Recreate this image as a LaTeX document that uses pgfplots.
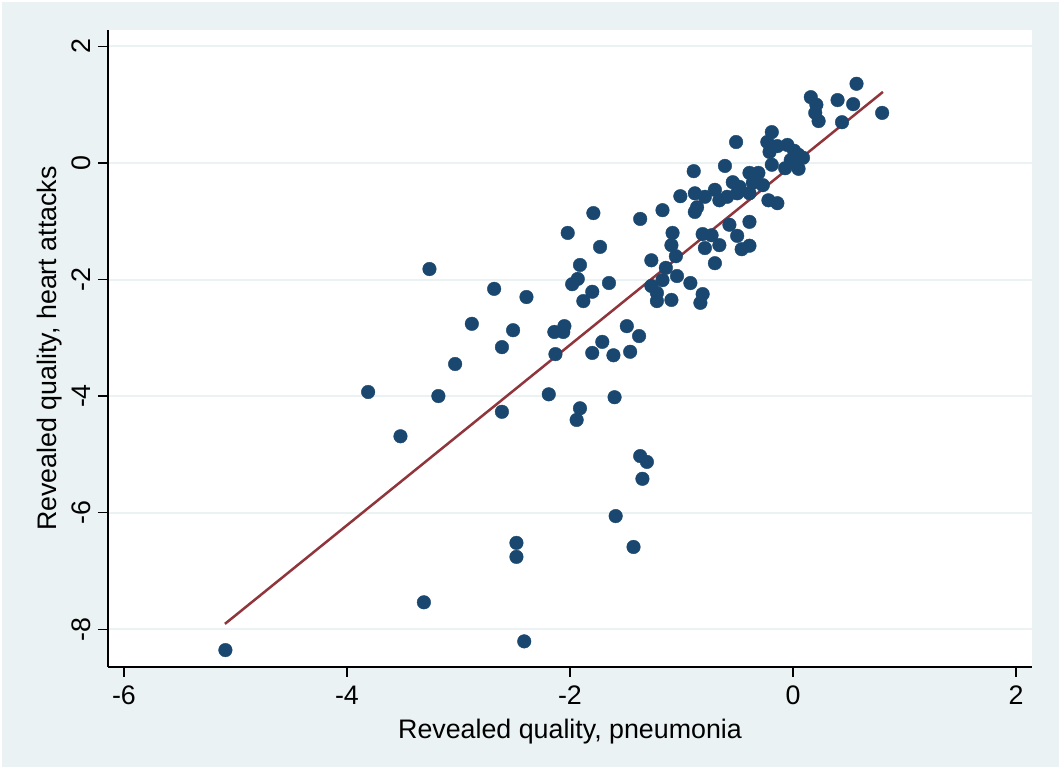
\documentclass[border=0pt]{standalone}
\usepackage{pgfplots}
\pgfplotsset{compat=1.18}
\usepackage{fontspec}
\setmainfont{Liberation Sans}
\definecolor{bgc}{HTML}{EAF2F3}
\definecolor{navy}{HTML}{1A476F}
\definecolor{maroon}{HTML}{90353B}
\begin{document}
\begin{tikzpicture}
\fill[white] (0,0) rectangle (530.5pt,384.5pt);
\fill[bgc] (1pt,1pt) rectangle (529.5pt,383.5pt);
\begin{axis}[
  at={(54pt,51pt)}, anchor=south west,
  scale only axis, width=462pt, height=318.5pt,
  xmin=-6.143, xmax=2.144, ymin=-8.65, ymax=2.283,
  axis x line*=bottom, axis y line*=left,
  axis line style={black, line width=0.6pt},
  axis background/.style={fill=white},
  tick align=outside, major tick length=5pt,
  tick style={black, line width=0.6pt},
  xtick={-6,-4,-2,0,2}, xticklabels={-6,-4,-2,0,2},
  ytick={-8,-6,-4,-2,0,2}, yticklabels={-8,-6,-4,-2,0,2},
  yticklabel style={rotate=90, anchor=south},
  xticklabel style={yshift=-1pt},
  ymajorgrids, grid style={bgc, line width=1pt},
  tick label style={font=\fontsize{13.4}{16}\selectfont},
  label style={font=\fontsize{13.4}{16}\selectfont},
  xlabel={Revealed quality, pneumonia},
  ylabel={Revealed quality, heart attacks},
  ylabel style={yshift=-2pt},
  clip=false,
]
\addplot[only marks, mark=*, mark size=3.4pt, mark options={fill=navy, draw=navy, line width=0.2pt}] coordinates {
(-5.09,-8.36) (-3.31,-7.54) (-2.41,-8.21) (-2.48,-6.52) (-2.48,-6.76)
(-3.81,-3.93) (-3.52,-4.69) (-3.18,-4.00) (-3.26,-1.82) (-3.03,-3.45)
(-2.88,-2.76) (-2.68,-2.16) (-2.61,-3.16) (-2.51,-2.87) (-2.39,-2.30)
(-2.61,-4.27) (-2.19,-3.97) (-2.13,-3.28) (-2.14,-2.90) (-2.05,-2.80)
(-2.06,-2.90) (-2.02,-1.20) (-1.98,-2.08) (-1.93,-1.99) (-1.91,-1.75)
(-1.88,-2.37) (-1.79,-0.86) (-1.80,-2.21) (-1.80,-3.26) (-1.73,-1.44)
(-1.71,-3.07) (-1.65,-2.06) (-1.61,-3.30) (-1.60,-4.02) (-1.91,-4.21)
(-1.94,-4.41) (-1.49,-2.80) (-1.46,-3.24) (-1.37,-0.96) (-1.38,-2.97)
(-1.37,-5.03) (-1.31,-5.13) (-1.35,-5.42) (-1.59,-6.06) (-1.43,-6.59)
(-1.27,-1.67) (-1.27,-2.11) (-1.22,-2.23) (-1.22,-2.37) (-1.09,-2.35)
(-1.17,-0.81) (-1.14,-1.80) (-1.17,-2.01) (-1.04,-1.94) (-1.09,-1.41)
(-1.08,-1.20) (-1.05,-1.60) (-1.01,-0.57) (-0.92,-2.06) (-0.81,-2.25)
(-0.83,-2.40) (-0.89,-0.14) (-0.88,-0.52) (-0.88,-0.84) (-0.86,-0.76)
(-0.79,-0.58) (-0.70,-0.46) (-0.66,-0.64) (-0.59,-0.58) (-0.50,-0.52)
(-0.54,-0.33) (-0.61,-0.05) (-0.51,0.36) (-0.81,-1.22) (-0.73,-1.24)
(-0.79,-1.46) (-0.66,-1.41) (-0.70,-1.72) (-0.57,-1.06) (-0.50,-1.25)
(-0.46,-1.48) (-0.39,-1.42) (-0.39,-1.01) (-0.48,-0.41) (-0.39,-0.52)
(-0.39,-0.17) (-0.31,-0.17) (-0.27,-0.38) (-0.22,-0.64) (-0.14,-0.69)
(-0.36,-0.34) (-0.19,0.53) (-0.23,0.36) (-0.21,0.19) (-0.14,0.29)
(-0.05,0.31) (0.01,0.21) (0.05,0.14) (0.09,0.09) (-0.19,-0.03)
(-0.07,-0.09) (0.05,-0.10) (-0.02,0.05) (0.16,1.13) (0.21,1.00)
(0.20,0.86) (0.23,0.72) (0.40,1.08) (0.54,1.01) (0.57,1.36)
(0.44,0.70) (0.80,0.86)
};
\addplot[maroon, line width=1.25pt] coordinates {(-5.094,-7.91) (0.807,1.22)};
\end{axis}
\end{tikzpicture}
\end{document}
